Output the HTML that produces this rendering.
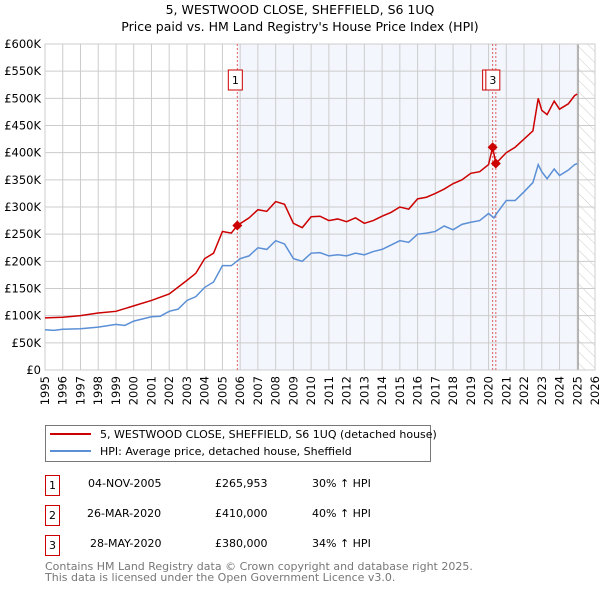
<!DOCTYPE html>
<html><head><meta charset="utf-8"><style>
body{margin:0;background:#fff;font-family:"Liberation Sans","DejaVu Sans",sans-serif;}
svg text{font-family:"DejaVu Sans","Liberation Sans",sans-serif;}
</style></head><body>
<svg id="c" width="600" height="590" xmlns="http://www.w3.org/2000/svg">
<text x="300" y="14" text-anchor="middle" font-size="12.5">5, WESTWOOD CLOSE, SHEFFIELD, S6 1UQ</text>
<text x="300" y="31" text-anchor="middle" font-size="12.5">Price paid vs. HM Land Registry's House Price Index (HPI)</text>
<g id="plot"></g>
<g>
<rect x="45.5" y="425.5" width="385" height="36" fill="#fff" stroke="#777"/>
<line x1="50" y1="434" x2="91" y2="434" stroke="#cc0000" stroke-width="2"/>
<text x="100" y="438" font-size="11">5, WESTWOOD CLOSE, SHEFFIELD, S6 1UQ (detached house)</text>
<line x1="50" y1="451" x2="91" y2="451" stroke="#5b8fd6" stroke-width="2"/>
<text x="100" y="455" font-size="11">HPI: Average price, detached house, Sheffield</text>
</g>
<g font-size="11">
<rect x="45.5" y="475.5" width="14" height="20" fill="#fff" stroke="#cc0000"/><text x="52.5" y="489" text-anchor="middle">1</text>
<text x="88" y="487">04-NOV-2005</text><text x="215" y="487">£265,953</text><text x="312" y="487">30% ↑ HPI</text>
<rect x="45.5" y="505.5" width="14" height="20" fill="#fff" stroke="#cc0000"/><text x="52.5" y="519" text-anchor="middle">2</text>
<text x="87" y="517">26-MAR-2020</text><text x="215" y="517">£410,000</text><text x="312" y="517">40% ↑ HPI</text>
<rect x="45.5" y="535.5" width="14" height="20" fill="#fff" stroke="#cc0000"/><text x="52.5" y="549" text-anchor="middle">3</text>
<text x="90" y="547">28-MAY-2020</text><text x="215" y="547">£380,000</text><text x="312" y="547">34% ↑ HPI</text>
</g>
<text x="45" y="570" font-size="11" fill="#777">Contains HM Land Registry data © Crown copyright and database right 2025.</text>
<text x="45" y="581" font-size="11" fill="#777">This data is licensed under the Open Government Licence v3.0.</text>
</svg>
<script>
const hpiYears=[1995,1995.5,1996,1997,1998,1999,1999.5,2000,2001,2001.5,2002,2002.5,2003,2003.5,2004,2004.5,2005,2005.5,2006,2006.5,2007,2007.5,2008,2008.5,2009,2009.5,2010,2010.5,2011,2011.5,2012,2012.5,2013,2013.5,2014,2014.5,2015,2015.5,2016,2016.5,2017,2017.5,2018,2018.5,2019,2019.5,2020,2020.3,2020.5,2021,2021.5,2022,2022.5,2022.8,2023,2023.3,2023.7,2024,2024.5,2024.85,2025];
const hpiValues=[74,73,75,76,79,84,82,90,98,99,108,112,128,135,152,162,192,192,205,210,225,222,238,232,205,200,215,216,210,212,210,215,212,218,222,230,238,235,250,252,255,265,258,268,272,275,288,280,290,312,312,328,345,378,365,352,370,358,368,378,380];
const ppYears=[1995,1996,1997,1998,1999,2000,2001,2002,2003,2003.5,2004,2004.5,2005,2005.5,2005.84,2006.5,2007,2007.5,2008,2008.5,2009,2009.5,2010,2010.5,2011,2011.5,2012,2012.5,2013,2013.5,2014,2014.5,2015,2015.5,2016,2016.5,2017,2017.5,2018,2018.5,2019,2019.5,2020,2020.23,2020.41,2021,2021.5,2022,2022.5,2022.8,2023,2023.3,2023.7,2024,2024.5,2024.85,2025];
const ppValues=[96,97,100,105,108,118,128,140,165,178,205,215,255,252,266,280,295,292,310,305,270,262,282,283,275,278,273,280,270,275,283,290,300,296,315,318,325,333,343,350,362,365,378,410,380,400,410,425,440,500,478,470,495,480,490,505,508];
const saleLabels=["1","2","3"];
const saleYears=[2005.84,2020.23,2020.41];
const saleValues=[265.953,410,380];
const yTicks=[0,50,100,150,200,250,300,350,400,450,500,550,600];
const xTicks=[1995,1996,1997,1998,1999,2000,2001,2002,2003,2004,2005,2006,2007,2008,2009,2010,2011,2012,2013,2014,2015,2016,2017,2018,2019,2020,2021,2022,2023,2024,2025,2026];
const X0=45,X1=595,Y0=370,Y1=44;
const xs=y=>X0+(y-1995)/(2026-1995)*(X1-X0);
const ys=v=>Y0-v/600*(Y0-Y1);
const NS="http://www.w3.org/2000/svg";
const g=document.getElementById('plot');
function mk(t,a){const e=document.createElementNS(NS,t);for(const k in a)e.setAttribute(k,a[k]);g.appendChild(e);return e;}
const dataEnd=2025.05;
let e=mk('rect',{x:xs(saleYears[0]),y:Y1,width:xs(dataEnd)-xs(saleYears[0]),height:Y0-Y1,fill:'#eef2fb',opacity:0.7});


const defs=document.createElementNS(NS,'defs');defs.innerHTML='<pattern id="h" width="8" height="8" patternUnits="userSpaceOnUse" patternTransform="rotate(-45)"><line x1="0" y1="0" x2="0" y2="8" stroke="#ccc" stroke-width="1"/></pattern>';g.appendChild(defs);
e=mk('rect',{x:xs(dataEnd),y:Y1,width:X1-xs(dataEnd),height:Y0-Y1,fill:'url(#h)'});


yTicks.forEach(v=>{
 let l=mk('line',{x1:X0,x2:X1,y1:ys(v),y2:ys(v),stroke:'#ccc'});
 
 
 let t=mk('text',{x:X0-4,y:ys(v)+4,'text-anchor':'end','font-size':'11.5'});
 t.textContent=v===0?'£0':'£'+v+'K';
 
 
});
xTicks.forEach(yr=>{
 let l=mk('line',{x1:xs(yr),x2:xs(yr),y1:Y1,y2:Y0,stroke:'#ccc'});
 
 
 let t=mk('text',{x:0,y:0,'text-anchor':'end','font-size':'11.5',transform:`translate(${xs(yr)+4},${Y0+6}) rotate(-90)`});
 t.textContent=yr;
 
 
});
e=mk('line',{x1:xs(dataEnd),x2:xs(dataEnd),y1:Y1,y2:Y0,stroke:'#999','stroke-width':1.2});


e=mk('rect',{x:X0,y:Y1,width:X1-X0,height:Y0-Y1,fill:'none',stroke:'#ccc'});


saleYears.forEach(yr=>{
 let l=mk('line',{x1:xs(yr),x2:xs(yr),y1:Y1,y2:Y0,stroke:'#e06060','stroke-dasharray':'2,2'});
 
 
});
e=mk('polyline',{points:hpiYears.map((y,i)=>xs(y)+','+ys(hpiValues[i])).join(' '),fill:'none',stroke:'#5b8fd6','stroke-width':1.5});


e=mk('polyline',{points:ppYears.map((y,i)=>xs(y)+','+ys(ppValues[i])).join(' '),fill:'none',stroke:'#cc0000','stroke-width':1.5});


const boxOffsets=[-9,-10,-10];
saleYears.forEach((yr,i)=>{
 const cx=xs(yr),cy=ys(saleValues[i]);
 let p=mk('polygon',{points:`${cx},${cy-5} ${cx+5},${cy} ${cx},${cy+5} ${cx-5},${cy}`,fill:'#cc0000'});
 
 
 const bx=cx+boxOffsets[i];
 let r=mk('rect',{x:bx,y:70,width:14,height:20,fill:'#fff',stroke:'#cc0000'});
 
 
 let t=mk('text',{x:bx+7,y:84,'text-anchor':'middle','font-size':'11'});
 t.textContent=saleLabels[i];
 
 
});
</script>
</body></html>
